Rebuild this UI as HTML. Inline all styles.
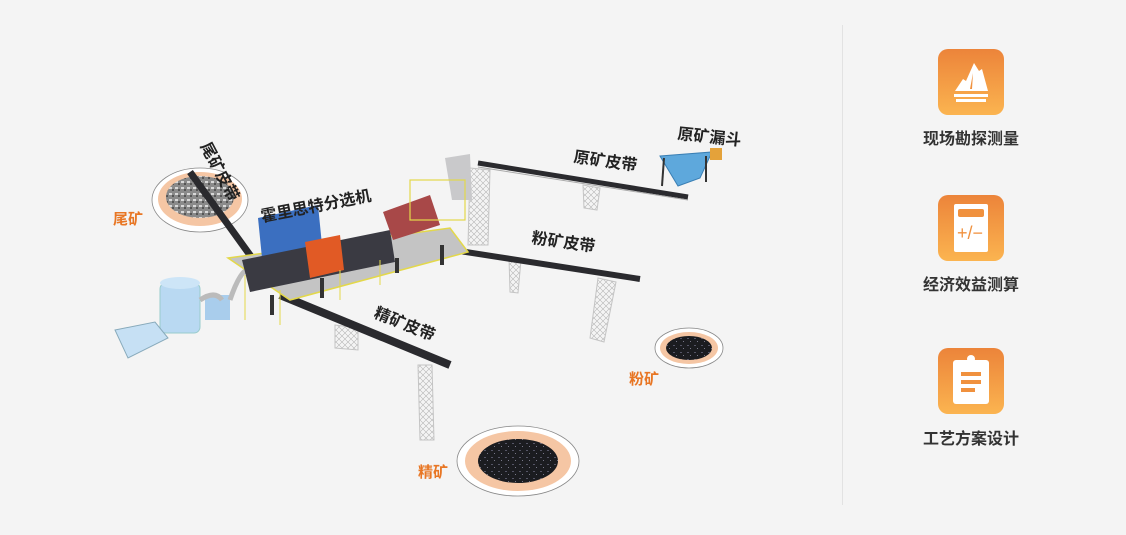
<!DOCTYPE html>
<html><head><meta charset="utf-8"><style>
html,body{margin:0;padding:0;background:#f4f4f4;}
body{width:1126px;height:535px;position:relative;overflow:hidden;font-family:"Liberation Sans","Noto Sans CJK SC",sans-serif;}
.ic{position:absolute;left:938px;width:66px;height:66px;border-radius:10px;background:linear-gradient(#ec843a,#fbb450);}
.lb{position:absolute;left:900px;width:142px;text-align:center;font-size:16px;font-weight:bold;color:#333;}
.div{position:absolute;left:842px;top:25px;width:1px;height:480px;background:#e2e2e2;}
</style></head><body>
<svg width="1126" height="535" style="position:absolute;left:0;top:0">
<defs>
<pattern id="tx" width="6" height="6" patternUnits="userSpaceOnUse"><rect width="6" height="6" fill="#8a8a8a"/><rect x="1" y="1" width="3" height="2" fill="#d8d8d8"/><rect x="4" y="3" width="2" height="2" fill="#555"/></pattern>
<pattern id="dk" width="7" height="7" patternUnits="userSpaceOnUse"><rect width="7" height="7" fill="#1b1c20"/><rect x="1" y="2" width="2" height="1" fill="#556"/><rect x="4" y="5" width="1" height="1" fill="#778"/></pattern>
<pattern id="tr" width="6" height="6" patternUnits="userSpaceOnUse"><path d="M0 0L6 6M6 0L0 6" stroke="#b5b5b5" stroke-width="0.6"/></pattern>
</defs>
<ellipse cx="200" cy="200" rx="48" ry="32" fill="#fff" stroke="#888" stroke-width="0.8"/>
<ellipse cx="200" cy="199" rx="42" ry="27" fill="#f5c6a4"/>
<ellipse cx="200" cy="197" rx="34" ry="21" fill="url(#tx)"/>
<ellipse cx="689" cy="348" rx="34" ry="20" fill="#fff" stroke="#888" stroke-width="0.8"/>
<ellipse cx="689" cy="348" rx="29" ry="16" fill="#f5c6a4"/>
<ellipse cx="689" cy="348" rx="23" ry="12" fill="url(#dk)"/>
<ellipse cx="518" cy="461" rx="61" ry="35" fill="#fff" stroke="#888" stroke-width="0.8"/>
<ellipse cx="518" cy="461" rx="53" ry="30" fill="#f5c6a4"/>
<ellipse cx="518" cy="461" rx="40" ry="22" fill="url(#dk)"/>
<g stroke="#c4c4c4" stroke-width="1">
<polygon points="418,365 432,365 434,440 420,440" fill="url(#tr)"/>
<polygon points="598,278 616,282 604,342 590,338" fill="url(#tr)"/>
<polygon points="509,258 521,260 518,293 510,292" fill="url(#tr)"/>
<polygon points="583,185 600,188 597,210 584,208" fill="url(#tr)"/>
<polygon points="470,168 490,170 488,245 468,245" fill="url(#tr)"/>
<polygon points="335,325 358,328 358,350 335,348" fill="url(#tr)"/>
</g>
<line x1="478" y1="163" x2="688" y2="197" stroke="#2a2a2e" stroke-width="5"/>
<line x1="478" y1="167" x2="688" y2="200" stroke="#aaa" stroke-width="1"/>
<line x1="440" y1="248" x2="640" y2="279" stroke="#2a2a2e" stroke-width="6"/>
<line x1="280" y1="295" x2="450" y2="365" stroke="#2a2a2e" stroke-width="8"/>
<line x1="190" y1="172" x2="255" y2="262" stroke="#2a2a2e" stroke-width="7"/>
<polygon points="660,156 712,152 700,178 678,186" fill="#5ea8dc" stroke="#3a7fb4"/>
<line x1="664" y1="158" x2="662" y2="186" stroke="#333" stroke-width="2"/>
<line x1="706" y1="156" x2="706" y2="182" stroke="#333" stroke-width="2"/>
<rect x="710" y="148" width="12" height="12" fill="#e4a23a"/>
<rect x="160" y="283" width="40" height="50" rx="6" fill="#b9d9f2" stroke="#9cc"/>
<ellipse cx="180" cy="283" rx="20" ry="6" fill="#cde5f7"/>
<polygon points="115,330 155,322 168,338 128,358" fill="#c6e0f4" stroke="#8ab"/>
<rect x="205" y="295" width="25" height="25" fill="#a9cdec"/>
<path d="M200 300 Q215 290 222 300 M230 300 Q240 270 250 268" stroke="#bbb" stroke-width="5" fill="none"/>
<polygon points="228,258 450,228 468,252 290,300" fill="#c4c4c4" stroke="#e3d84a" stroke-width="1.5"/>
<polygon points="258,218 318,205 322,245 262,258" fill="#3b6fc0"/>
<polygon points="242,260 390,230 395,262 250,292" fill="#3a3a42"/>
<polygon points="305,242 340,235 344,270 310,278" fill="#e15a25"/>
<polygon points="383,212 430,195 440,225 393,240" fill="#a84848"/>
<polygon points="445,158 470,154 472,200 452,200" fill="#c9c9cb"/>
<rect x="410" y="180" width="55" height="40" fill="none" stroke="#e3d84a" stroke-width="1.2"/>
<g stroke="#e3d84a" stroke-width="1"><line x1="245" y1="275" x2="245" y2="320"/><line x1="280" y1="290" x2="280" y2="325"/><line x1="340" y1="270" x2="340" y2="300"/><line x1="380" y1="260" x2="380" y2="285"/></g>
<g fill="#333"><rect x="270" y="295" width="4" height="20"/><rect x="320" y="278" width="4" height="20"/><rect x="395" y="258" width="4" height="15"/><rect x="440" y="245" width="4" height="20"/></g>
<g font-family="Liberation Sans,Noto Sans CJK SC,sans-serif" font-weight="bold" font-size="16" fill="#222">
<text transform="translate(200,146) rotate(62)">尾矿皮带</text>
<text transform="translate(262,222) rotate(-11)">霍里思特分选机</text>
<text transform="translate(677,139) rotate(6)">原矿漏斗</text>
<text transform="translate(573,162) rotate(8)">原矿皮带</text>
<text transform="translate(531,243) rotate(8)">粉矿皮带</text>
<text transform="translate(373,317) rotate(22)">精矿皮带</text>
</g>
<g font-family="Liberation Sans,Noto Sans CJK SC,sans-serif" font-weight="bold" font-size="15" fill="#e87624">
<text x="113" y="224">尾矿</text><text x="629" y="384">粉矿</text><text x="418" y="477">精矿</text>
</g>
</svg>
<div class="div"></div>
<div class="ic" style="top:49px"><svg width="66" height="66"><polygon points="17,42 25,30 28,32 36,14 41,22 44,20 50,42" fill="#fff"/><polygon points="35,24 32,40 34,40" fill="#f0913e"/><rect x="16" y="45" width="34" height="3" fill="#fff"/><rect x="18" y="50" width="30" height="3" fill="#fff"/></svg></div>
<div class="lb" style="top:125px">现场勘探测量</div>
<div class="ic" style="top:195px"><svg width="66" height="66"><rect x="16" y="9" width="34" height="48" rx="2" fill="#fff"/><rect x="20" y="14" width="26" height="8" rx="2" fill="#f0913e"/><text x="19" y="44" font-size="18" fill="#f0913e" font-family="Liberation Sans">+/−</text></svg></div>
<div class="lb" style="top:271px">经济效益测算</div>
<div class="ic" style="top:348px"><svg width="66" height="66"><rect x="15" y="12" width="36" height="44" rx="3" fill="#fff"/><circle cx="33" cy="11" r="4" fill="#fff"/><rect x="23" y="24" width="20" height="4" fill="#f0913e"/><rect x="23" y="32" width="20" height="4" fill="#f0913e"/><rect x="23" y="40" width="14" height="4" fill="#f0913e"/></svg></div>
<div class="lb" style="top:425px">工艺方案设计</div>
</body></html>
